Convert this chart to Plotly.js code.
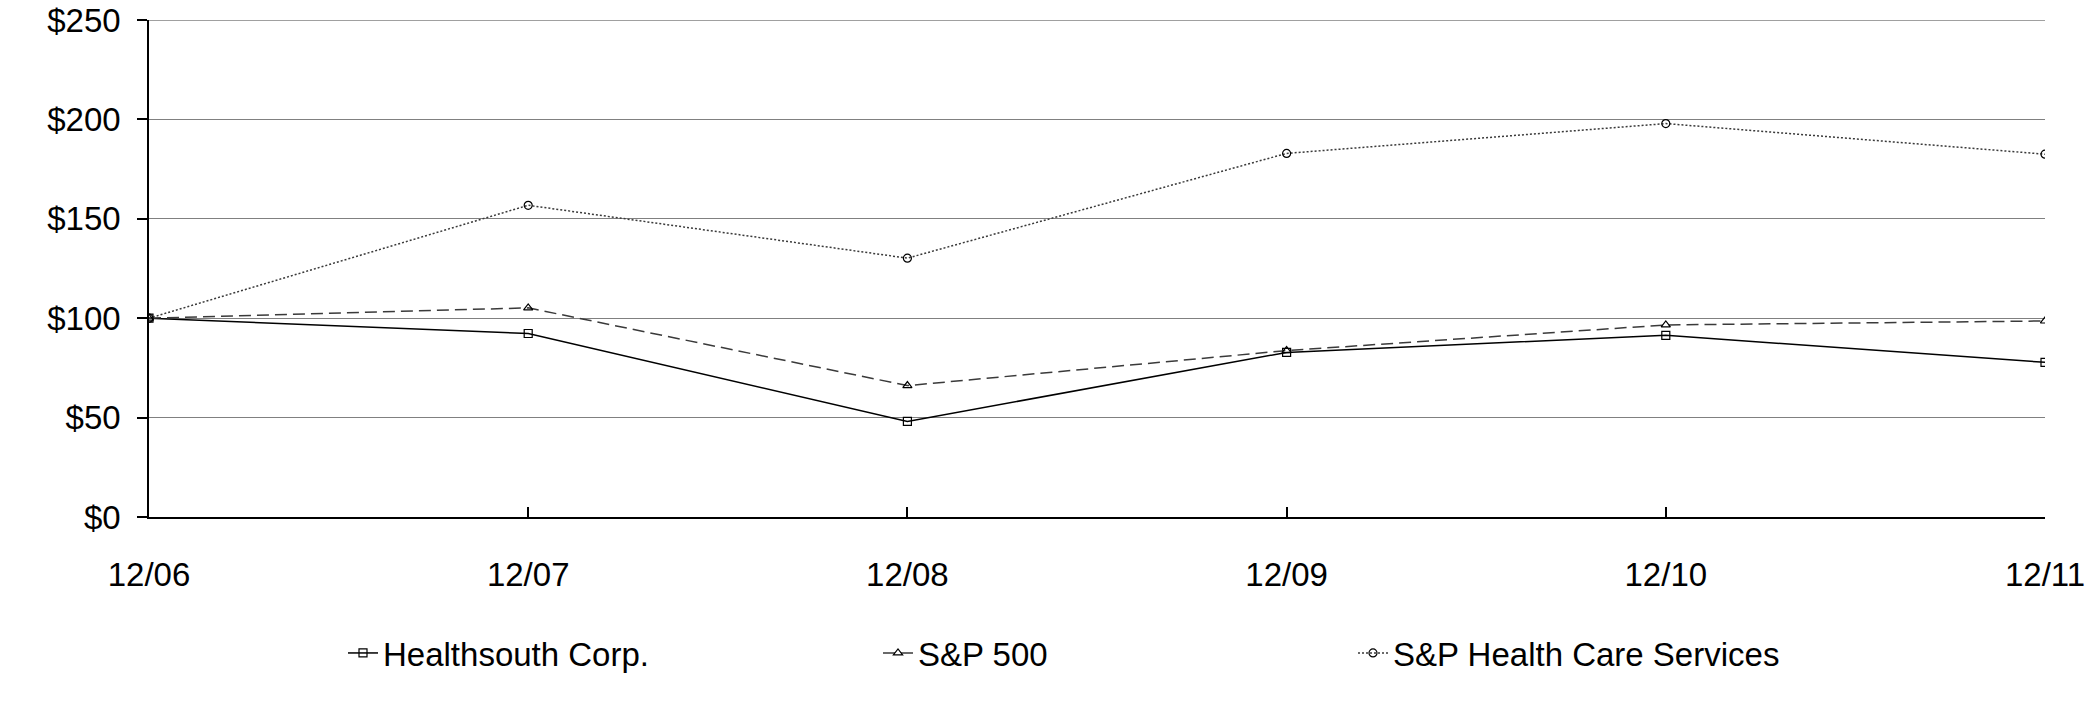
<!DOCTYPE html>
<html>
<head>
<meta charset="utf-8">
<script src="https://cdn.plot.ly/plotly-3.0.1.min.js"></script>
<style>html,body{margin:0;padding:0;background:#fff;}#chart{width:2100px;height:702px;}</style>
</head>
<body>
<div id="chart"></div>
<script>
const categories = ["12/06", "12/07", "12/08", "12/09", "12/10", "12/11"];
const healthsouth = [100, 92.3, 48.1, 82.8, 91.4, 77.8];
const sp500 = [100, 105.2, 66.1, 83.7, 96.6, 98.6];
const spHealthCare = [100, 156.8, 130.2, 182.9, 197.9, 182.5];
const yTickVals = [0, 50, 100, 150, 200, 250];
const yTickText = ["$0", "$50", "$100", "$150", "$200", "$250"];
const seriesNames = ["Healthsouth Corp.", "S&P 500", "S&P Health Care Services"];

const xIdx = categories.map((c, i) => i);
const FONT = "Liberation Sans, Arial, sans-serif";

const traces = [
  {
    x: xIdx, y: healthsouth, name: seriesNames[0], type: "scatter", mode: "lines+markers",
    line: {color: "#000000", width: 1.5},
    marker: {symbol: "square-open", size: 8, color: "#000000", line: {width: 1.2}},
    legend: "legend"
  },
  {
    x: xIdx, y: sp500, name: seriesNames[1], type: "scatter", mode: "lines+markers",
    line: {color: "#3a3a3a", width: 1.5, dash: "12px,6px"},
    marker: {symbol: "triangle-up-open", size: 8, color: "#000000", line: {width: 1.2}},
    legend: "legend2"
  },
  {
    x: xIdx, y: spHealthCare, name: seriesNames[2], type: "scatter", mode: "lines+markers",
    line: {color: "#3a3a3a", width: 1.5, dash: "2px,2px"},
    marker: {symbol: "circle-open", size: 8, color: "#000000", line: {width: 1.2}},
    legend: "legend3"
  }
];

const legendBase = {
  orientation: "h", xref: "container", yref: "container", yanchor: "middle", xanchor: "left",
  y: 1 - 653 / 702, font: {family: FONT, size: 33, color: "#000"}, bgcolor: "rgba(0,0,0,0)",
  itemwidth: 30
};

const layout = {
  width: 2100, height: 702,
  margin: {l: 149, r: 55, t: 20, b: 185},
  paper_bgcolor: "#ffffff", plot_bgcolor: "#ffffff",
  font: {family: FONT, color: "#000"},
  showlegend: true,
  legend: Object.assign({}, legendBase, {x: 343 / 2100}),
  legend2: Object.assign({}, legendBase, {x: 878 / 2100}),
  legend3: Object.assign({}, legendBase, {x: 1353 / 2100}),
  shapes: [{
    type: "line", xref: "paper", yref: "y", x0: 0, x1: 1, y0: 250, y1: 250,
    line: {color: "#808080", width: 1.3}, layer: "below"
  }],
  xaxis: {
    range: [0, 5], tickmode: "array", tickvals: xIdx, ticktext: categories,
    showgrid: false, zeroline: false, showline: true, linecolor: "#000", linewidth: 1.5,
    ticks: "inside", ticklen: 10, tickcolor: "#000", tickwidth: 1.5,
    tickfont: {family: FONT, size: 33, color: "#000"}, ticklabelstandoff: 28
  },
  yaxis: {
    range: [0, 250], tickmode: "array", tickvals: yTickVals, ticktext: yTickText,
    showgrid: true, gridcolor: "#808080", gridwidth: 1.3, zeroline: false,
    showline: true, linecolor: "#000", linewidth: 1.5,
    ticks: "outside", ticklen: 10, tickcolor: "#000", tickwidth: 1.5,
    tickfont: {family: FONT, size: 33, color: "#000"}, ticklabelstandoff: 10
  }
};

Plotly.newPlot("chart", traces, layout, {displayModeBar: false, responsive: false});
</script>
</body>
</html>
